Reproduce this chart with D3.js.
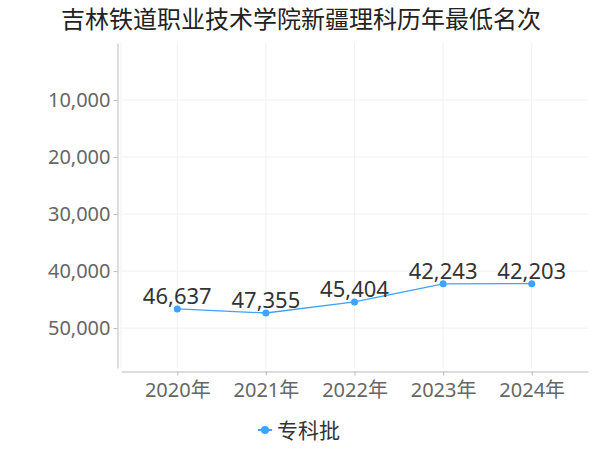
<!DOCTYPE html>
<html>
<head>
<meta charset="utf-8">
<script src="https://cdn.jsdelivr.net/npm/d3@7"></script>
<style>
  body { margin: 0; background: #fff; }
  svg { display: block; font-family: "Noto Sans", "Noto Sans CJK SC", sans-serif; }
</style>
</head>
<body>
<div id="chart"></div>
<script>
const title = "吉林铁道职业技术学院新疆理科历年最低名次";
const years = ["2020年", "2021年", "2022年", "2023年", "2024年"];
const ranks = [46637, 47355, 45404, 42243, 42203];
const yTicks = [10000, 20000, 30000, 40000, 50000];
const seriesName = "专科批";

const width = 600;
const height = 450;
const margin = { top: 43, right: 12, bottom: 82, left: 121 };
const color = "#3fa2ff";
const numFont = "'Noto Sans', 'Noto Sans CJK SC', sans-serif";

const svg = d3.select("#chart")
    .append("svg")
    .attr("width", width)
    .attr("height", height);

const xScale = d3.scalePoint()
    .domain(years)
    .range([margin.left, width - margin.right])
    .padding(0.635);

// rank axis is inverted: small numbers at top
const yScale = d3.scaleLinear()
    .domain([0, 57000])
    .range([margin.top, height - margin.bottom]);

// grid
svg.append("g")
    .selectAll("line")
    .data(yTicks)
    .enter()
    .append("line")
    .attr("x1", margin.left)
    .attr("x2", width - margin.right)
    .attr("y1", d => yScale(d))
    .attr("y2", d => yScale(d))
    .attr("stroke", "#f0f0f0");

svg.append("g")
    .selectAll("line")
    .data(years)
    .enter()
    .append("line")
    .attr("x1", d => xScale(d))
    .attr("x2", d => xScale(d))
    .attr("y1", margin.top)
    .attr("y2", height - margin.bottom)
    .attr("stroke", "#f0f0f0");

svg.append("line")
    .attr("x1", margin.left)
    .attr("x2", margin.left)
    .attr("y1", margin.top)
    .attr("y2", height - margin.bottom)
    .attr("stroke", "#f0f0f0");

// y axis
const yAxis = svg.append("g")
    .attr("transform", `translate(${margin.left - 3.5},0)`)
    .call(d3.axisLeft(yScale).tickValues(yTicks).tickFormat(d3.format(",")).tickSize(4).tickPadding(3).tickSizeOuter(0));
yAxis.select(".domain").attr("stroke", "#bbb");
yAxis.selectAll(".tick line").attr("stroke", "#bbb");
yAxis.selectAll("text")
    .attr("fill", "#666")
    .style("font-family", numFont)
    .style("font-size", "20px");

// x axis
const xAxis = svg.append("g")
    .attr("transform", `translate(0,${height - margin.bottom + 3.5})`)
    .call(d3.axisBottom(xScale).tickSize(4).tickPadding(7).tickSizeOuter(0));
xAxis.select(".domain").attr("stroke", "#bbb");
xAxis.selectAll(".tick line").attr("stroke", "#bbb");
xAxis.selectAll("text")
    .attr("fill", "#666")
    .style("font-family", numFont)
    .style("font-size", "20px");

// line
const line = d3.line()
    .x((d, i) => xScale(years[i]))
    .y(d => yScale(d));

svg.append("path")
    .datum(ranks)
    .attr("d", line)
    .attr("fill", "none")
    .attr("stroke", color)
    .attr("stroke-width", 1.3);

svg.selectAll("circle.pt")
    .data(ranks)
    .enter()
    .append("circle")
    .attr("class", "pt")
    .attr("cx", (d, i) => xScale(years[i]))
    .attr("cy", d => yScale(d))
    .attr("r", 3.5)
    .attr("fill", color);

svg.selectAll("text.lbl")
    .data(ranks)
    .enter()
    .append("text")
    .attr("class", "lbl")
    .attr("x", (d, i) => xScale(years[i]))
    .attr("y", d => yScale(d) - 5)
    .attr("text-anchor", "middle")
    .attr("fill", "#333")
    .style("font-family", numFont)
    .style("font-size", "22px")
    .text(d => d3.format(",")(d));

// title
svg.append("text")
    .attr("x", 301)
    .attr("y", 28)
    .attr("text-anchor", "middle")
    .attr("fill", "#222")
    .style("font-family", "'Noto Sans CJK SC', sans-serif")
    .style("font-size", "24px")
    .text(title);

// legend
const legend = svg.append("g").attr("transform", "translate(265,430)");
legend.append("line")
    .attr("x1", -7).attr("x2", 7)
    .attr("stroke", color).attr("stroke-width", 2);
legend.append("circle")
    .attr("r", 4)
    .attr("fill", color);
legend.append("text")
    .attr("x", 12)
    .attr("y", 8)
    .attr("fill", "#333")
    .style("font-family", "'Noto Sans CJK SC', sans-serif")
    .style("font-size", "21px")
    .text(seriesName);
</script>
</body>
</html>
